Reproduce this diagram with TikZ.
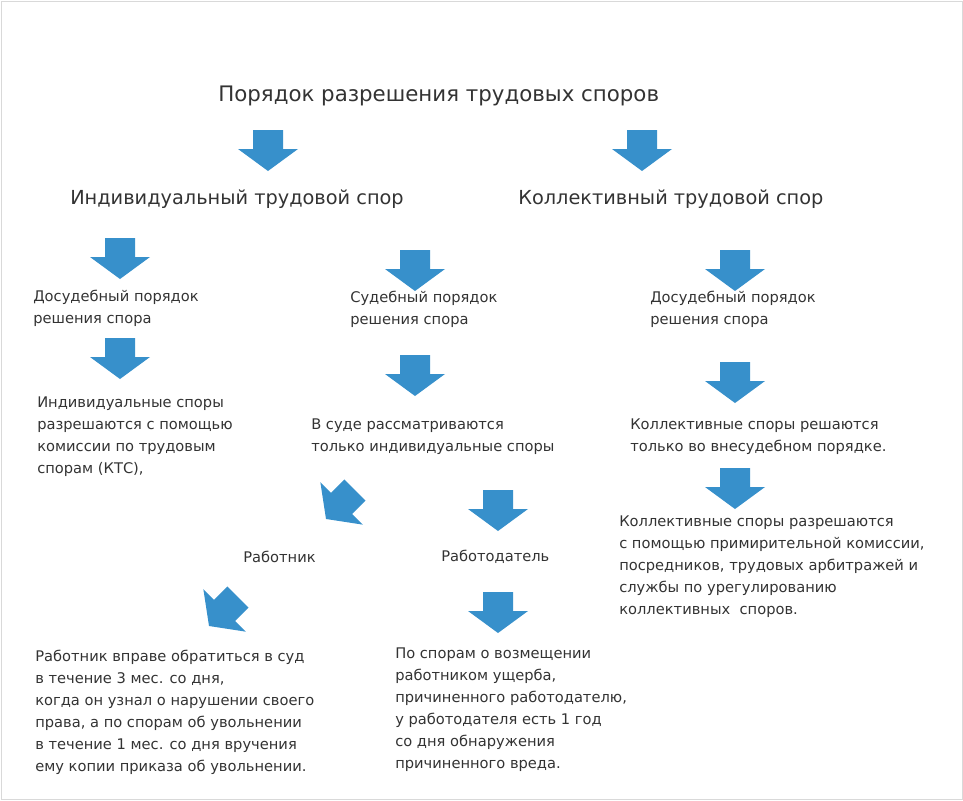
\documentclass[tikz,border=0pt]{standalone}
\usepackage{fontspec}
\setmainfont{DejaVu Sans}
\definecolor{arrowblue}{HTML}{3790CB}
\definecolor{txtgray}{HTML}{333333}
\tikzset{
  downarrow/.pic={\fill[arrowblue] (-15,0) -- (15,0) -- (15,19) -- (30,19) -- (0,41) -- (-30,19) -- (-15,19) -- cycle;},
  head/.style={anchor=west, inner sep=0pt, text=txtgray, font=\fontsize{14.5}{18}\selectfont},
  body/.style={anchor=north west, inner sep=0pt, align=left, text=txtgray, font=\fontsize{11}{16.5}\selectfont}
}
\begin{document}
\begin{tikzpicture}[x=0.75pt,y=-0.75pt]
  \useasboundingbox (0,0) rectangle (963,800);
  \draw[black!15] (1,1) rectangle (962,799);
  % titles
  \node[head, font=\fontsize{16}{20}\selectfont] (title) at (218,96) {Порядок разрешения трудовых споров};
  \node[head] (indiv) at (70,199) {Индивидуальный трудовой спор};
  \node[head] (coll) at (518,199) {Коллективный трудовой спор};
  % arrows
  \pic at (268,130) {downarrow};
  \pic at (642,130) {downarrow};
  \pic at (120,238) {downarrow};
  \pic at (415,250) {downarrow};
  \pic at (735,250) {downarrow};
  \pic at (120,338) {downarrow};
  \pic at (415,355) {downarrow};
  \pic at (735,362) {downarrow};
  \pic at (735,468) {downarrow};
  \pic at (498,490) {downarrow};
  \pic at (498,592) {downarrow};
  \pic[rotate=-45] at (355,490) {downarrow};
  \pic[rotate=-45] at (238,597) {downarrow};
  % texts
  \node[body] (pre1) at (33,290) {Досудебный порядок\\решения спора};
  \node[body] (court) at (350,291) {Судебный порядок\\решения спора};
  \node[body] (pre2) at (650,291) {Досудебный порядок\\решения спора};
  \node[body] (kts) at (37,397) {Индивидуальные споры\\разрешаются с помощью\\комиссии по трудовым\\спорам (КТС),};
  \node[body] (only) at (311,419) {В суде рассматриваются\\только индивидуальные споры};
  \node[body] (collonly) at (630,419) {Коллективные споры решаются\\только во внесудебном порядке.};
  \node[body] (collways) at (619,516) {Коллективные споры разрешаются\\с помощью примирительной комиссии,\\посредников, трудовых арбитражей и\\службы по урегулированию\\коллективных~ споров.};
  \node[body, anchor=west] (worker) at (243,557) {Работник};
  \node[body, anchor=west] (employer) at (441,557) {Работодатель};
  \node[body] (wterm) at (35,650) {Работник вправе обратиться в суд\\в течение 3 мес. со дня,\\когда он узнал о нарушении своего\\права, а по спорам об увольнении\\в течение 1 мес. со дня вручения\\ему копии приказа об увольнении.};
  \node[body] (eterm) at (395,648) {По спорам о возмещении\\работником ущерба,\\причиненного работодателю,\\у работодателя есть 1 год\\со дня обнаружения\\причиненного вреда.};
\end{tikzpicture}
\end{document}
